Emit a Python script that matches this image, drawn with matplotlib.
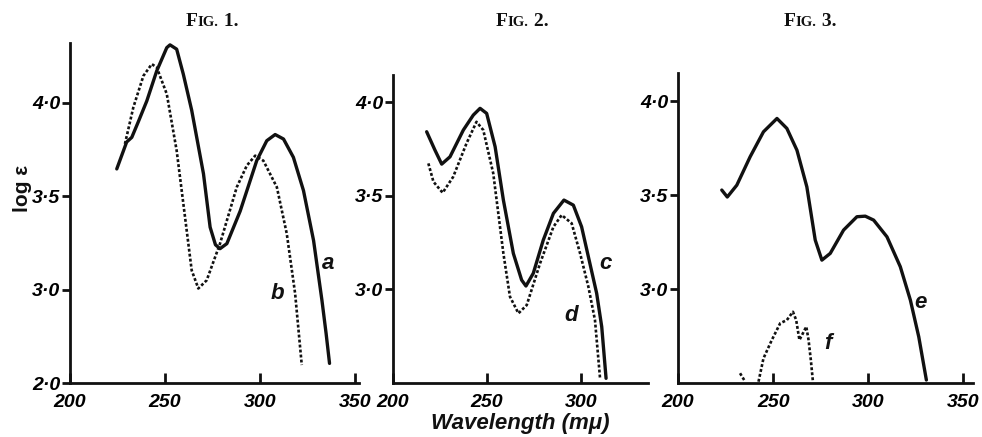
import matplotlib
matplotlib.use("Agg")
import matplotlib.pyplot as plt
from matplotlib.offsetbox import TextArea, HPacker, AnnotationBbox

# =========================
# Data
# =========================

# Fig. 1
wl_a = [224.6, 229.8, 232.5, 236.0, 240.4, 245.6, 250.9, 252.6, 256.1, 259.6, 264.0,
        270.2, 273.7, 276.5, 278.9, 282.5, 289.5, 298.2, 303.5, 307.9, 312.3, 317.5,
        322.8, 328.1, 332.5, 334.7, 336.5]
loge_a = [3.646, 3.79, 3.815, 3.90, 4.01, 4.17, 4.295, 4.31, 4.287, 4.153, 3.96,
          3.62, 3.334, 3.24, 3.219, 3.246, 3.42, 3.69, 3.797, 3.83, 3.806, 3.708,
          3.53, 3.263, 2.943, 2.765, 2.605]

wl_b = [228.9, 233.3, 238.6, 243.0, 245.6, 250.9, 256.1, 260.5, 264.0, 267.5, 271.9,
        278.9, 287.7, 293.0, 297.4, 301.7, 308.8, 314.0, 318.4, 321.9]
loge_b = [3.78, 3.975, 4.144, 4.207, 4.19, 4.047, 3.744, 3.388, 3.103, 3.006, 3.05,
          3.246, 3.548, 3.664, 3.717, 3.69, 3.548, 3.30, 2.979, 2.596]

# Fig. 2
wl_c = [217.9, 222.3, 225.9, 230.3, 237.4, 242.7, 246.3, 249.8, 254.3, 258.7, 264.0,
        268.4, 270.7, 274.6, 279.9, 285.3, 290.9, 295.9, 300.3, 303.9, 308.3, 311.0, 313.3]
loge_c = [3.842, 3.744, 3.669, 3.708, 3.851, 3.931, 3.967, 3.94, 3.762, 3.477, 3.192,
          3.05, 3.018, 3.086, 3.263, 3.406, 3.477, 3.45, 3.334, 3.174, 2.979, 2.80, 2.525]

wl_d = [218.8, 221.5, 226.4, 232.0, 239.1, 244.4, 248.0, 253.3, 258.7, 262.2, 266.7,
        271.1, 278.2, 285.3, 289.7, 295.0, 299.5, 303.9, 307.4, 310.1]
loge_d = [3.673, 3.575, 3.516, 3.601, 3.78, 3.895, 3.851, 3.62, 3.192, 2.961, 2.872,
          2.916, 3.139, 3.334, 3.397, 3.353, 3.192, 3.014, 2.836, 2.525]

# Fig. 3
wl_e = [223.0, 225.9, 230.9, 237.9, 244.9, 252.0, 257.2, 262.5, 267.7, 272.1, 275.6,
        280.0, 287.0, 294.0, 298.4, 302.8, 309.8, 316.8, 322.1, 326.5, 330.5]
loge_e = [3.527, 3.49, 3.553, 3.704, 3.837, 3.908, 3.855, 3.739, 3.544, 3.261, 3.154,
          3.19, 3.314, 3.385, 3.388, 3.367, 3.278, 3.119, 2.941, 2.746, 2.516]

wl_f1 = [232.6, 235.3]
loge_f1 = [2.552, 2.507]
wl_f = [242.3, 244.9, 249.3, 253.7, 257.2, 260.4, 262.1, 263.8, 265.6, 267.4, 268.6,
        269.8, 270.9]
loge_f = [2.507, 2.631, 2.729, 2.818, 2.835, 2.879, 2.835, 2.729, 2.764, 2.80, 2.729,
          2.622, 2.507]

x_ticks = [200, 250, 300, 350]
y_ticks = [2.5, 3.0, 3.5, 4.0]
y_labels_1 = ["2·0", "3·0", "3·5", "4·0"]
y_labels_23 = ["", "3·0", "3·5", "4·0"]

# =========================
# Figure
# =========================

ink = "#111111"
tick_font = dict(family="Liberation Sans", weight="bold", style="italic", size=14)
solid = dict(color=ink, lw=2.4, solid_joinstyle="round", solid_capstyle="round")
dotted = dict(color=ink, lw=1.9, linestyle=(0, (1.1, 0.8)))

W, H = 982, 437
fig = plt.figure(figsize=(W / 100, H / 100), dpi=100)


def make_axes(left_px, right_px, top_px, xmax, ytop):
    bottom_px = 383
    ax = fig.add_axes([left_px / W, 1 - bottom_px / H,
                       (right_px - left_px) / W, (bottom_px - top_px) / H])
    ax.set_xlim(200, xmax)
    ax.set_ylim(2.5, ytop)
    for s in ["top", "right"]:
        ax.spines[s].set_visible(False)
    for s in ["left", "bottom"]:
        ax.spines[s].set_linewidth(2.0)
        ax.spines[s].set_color(ink)
    ax.tick_params(axis="x", direction="in", length=7, width=2, color=ink, pad=8)
    ax.tick_params(axis="y", direction="out", length=6, width=2, color=ink, pad=1)
    return ax


ax1 = make_axes(70, 359, 43, 352, 4.32)
ax2 = make_axes(393, 648, 75, 335.6, 4.145)
ax3 = make_axes(678, 973, 73, 355, 4.15)

ax1.plot(wl_a, loge_a, **solid)
ax1.plot(wl_b, loge_b, **dotted)
ax2.plot(wl_c, loge_c, **solid)
ax2.plot(wl_d, loge_d, **dotted)
ax3.plot(wl_e, loge_e, **solid)
ax3.plot(wl_f1, loge_f1, **dotted)
ax3.plot(wl_f, loge_f, **dotted)

for ax, labs, xt in [(ax1, y_labels_1, x_ticks), (ax2, y_labels_23, x_ticks[:3]),
                     (ax3, y_labels_23, x_ticks)]:
    ax.set_xticks(xt)
    ax.set_xticklabels([str(v) for v in xt], fontdict=tick_font)
    ax.set_yticks(y_ticks)
    ax.set_yticklabels(labs, fontdict=tick_font)

# hide the y tick at the origin of Fig. 2 and 3
for ax in [ax2, ax3]:
    ax.yaxis.get_major_ticks()[0].tick1line.set_visible(False)

# curve letters
letter_font = dict(family="Liberation Sans", weight="bold", style="italic", size=16,
                   color=ink, ha="center", va="center")
ax1.text(335.8, 3.14, "a", **letter_font)
ax1.text(309.0, 2.98, "b", **letter_font)
ax2.text(312.8, 3.14, "c", **letter_font)
ax2.text(295.0, 2.86, "d", **letter_font)
ax3.text(327.5, 2.93, "e", **letter_font)
ax3.text(279.0, 2.71, "f", **letter_font)

# axis titles
fig.text(23 / W, 1 - 188 / H, "log ε", rotation=90, ha="center", va="center",
         family="Liberation Sans", weight="bold", size=15, color=ink)
fig.text(520 / W, 1 - 423 / H, "Wavelength (mμ)", ha="center", va="center",
         family="Liberation Sans", weight="bold", style="italic", size=16, color=ink)

# small-caps figure captions
for num, cx in [("1", 212), ("2", 522), ("3", 810)]:
    big = dict(family="Liberation Serif", weight="bold", size=14, color=ink)
    small = dict(family="Liberation Serif", weight="bold", size=10.5, color=ink)
    box = HPacker(children=[TextArea("F", textprops=big),
                            TextArea("IG.", textprops=small),
                            TextArea(" " + num + ".", textprops=big)],
                  align="baseline", pad=0, sep=0)
    ab = AnnotationBbox(box, (cx / W, 1 - 22 / H), xycoords="figure fraction",
                        frameon=False, box_alignment=(0.5, 0.5))
    fig.add_artist(ab)

fig.savefig("out.png", dpi=100)
